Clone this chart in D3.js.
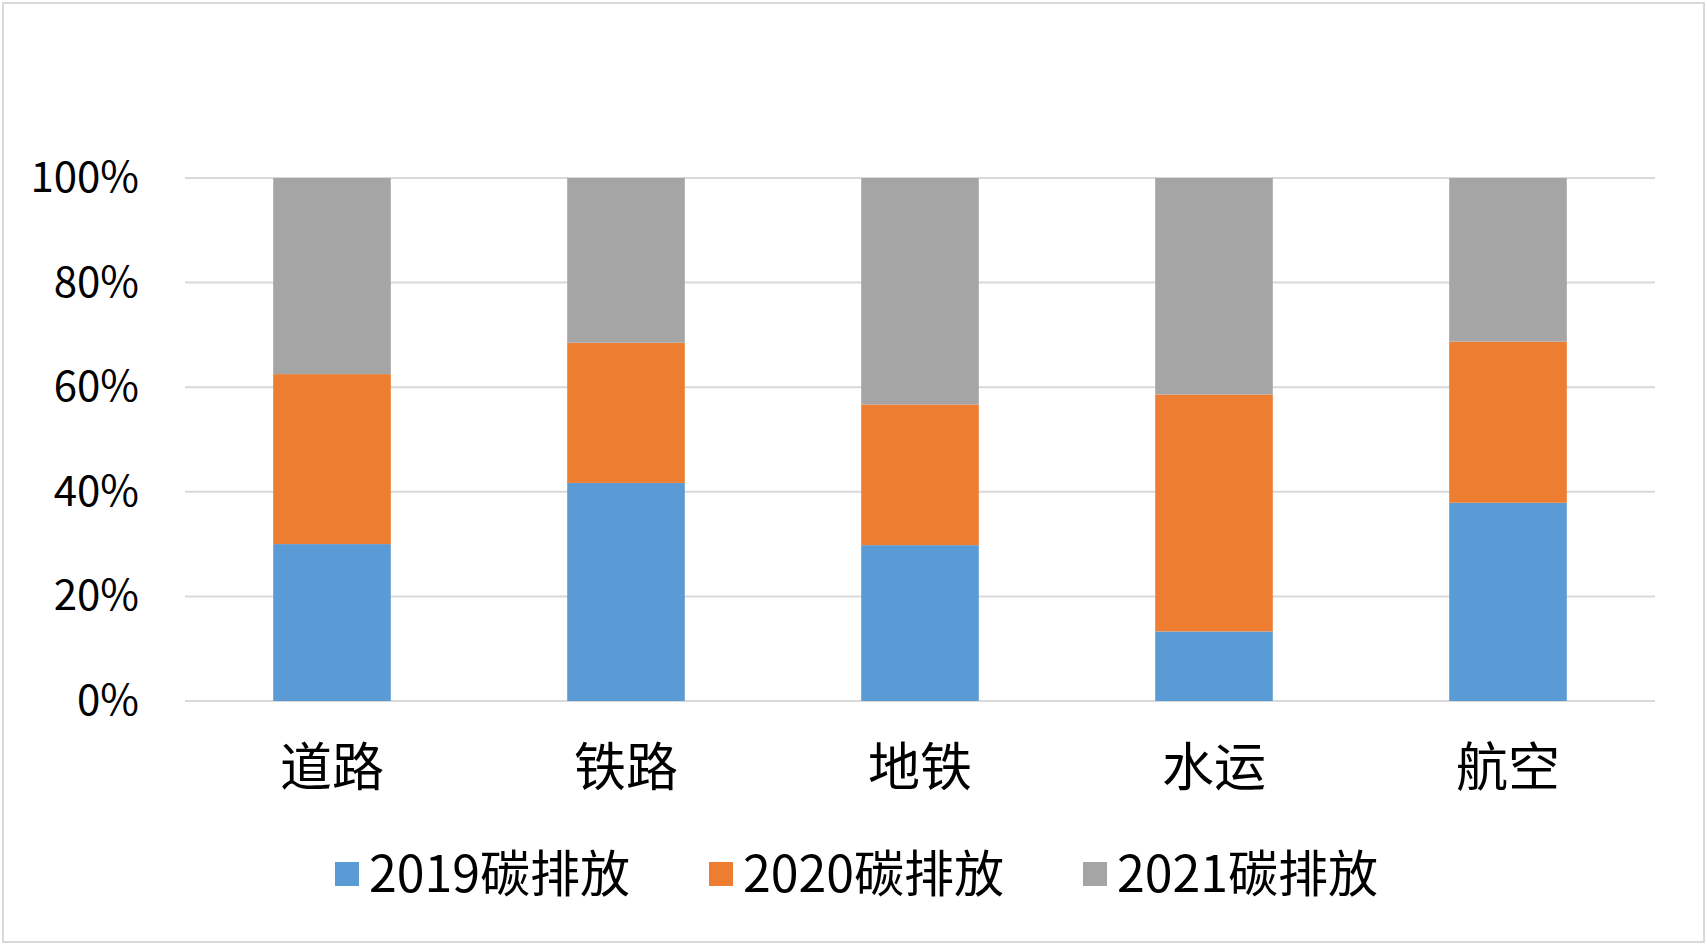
<!DOCTYPE html>
<html>
<head>
<meta charset="utf-8">
<script src="https://cdn.jsdelivr.net/npm/d3@7"></script>
<style>
	body { margin: 0; background: #ffffff; }
	svg text { font-family: "Noto Sans CJK SC", "Noto Sans", sans-serif; fill: #000000; }
</style>
</head>
<body>
<div id="chart"></div>
<script>
// Data
var categories = ["道路", "铁路", "地铁", "水运", "航空"];
var seriesNames = ["2019碳排放", "2020碳排放", "2021碳排放"];
var values2019 = [30.0, 41.7, 29.8, 13.3, 37.9];
var values2020 = [32.5, 26.8, 26.9, 45.3, 30.8];
var values2021 = [37.5, 31.5, 43.3, 41.4, 31.3];
var yTicks = [0, 0.2, 0.4, 0.6, 0.8, 1];
var colors = ["#5B9BD5", "#ED7D31", "#A5A5A5"];

(function(){

	var width = 1707, height = 945;
	var margin = {left: 185, right: 52, top: 178, bottom: 244};

	var svg = d3.select("#chart").append("svg")
		.attr("width", width)
		.attr("height", height);

	// chart border
	svg.append("rect")
		.attr("x", 3).attr("y", 3)
		.attr("width", width - 6).attr("height", height - 6)
		.attr("fill", "#ffffff")
		.attr("stroke", "#d9d9d9")
		.attr("stroke-width", 2);

	// build rows as shares of each total
	var rows = categories.map(function(c, i){
		var total = values2019[i] + values2020[i] + values2021[i];
		var row = {cat: c};
		row[seriesNames[0]] = values2019[i] / total;
		row[seriesNames[1]] = values2020[i] / total;
		row[seriesNames[2]] = values2021[i] / total;
		return row;
	});

	var stacked = d3.stack().keys(seriesNames)(rows);

	var x = d3.scaleBand()
		.domain(categories)
		.range([margin.left, width - margin.right])
		.paddingInner(0.6)
		.paddingOuter(0.3);

	var y = d3.scaleLinear()
		.domain([0, 1])
		.range([height - margin.bottom, margin.top]);

	// gridlines
	svg.append("g").selectAll("line")
		.data(yTicks)
		.enter().append("line")
		.attr("x1", margin.left)
		.attr("x2", width - margin.right)
		.attr("y1", function(d){ return y(d); })
		.attr("y2", function(d){ return y(d); })
		.attr("stroke", "#d9d9d9")
		.attr("stroke-width", 2);

	// bars
	svg.append("g").selectAll("g")
		.data(stacked)
		.enter().append("g")
		.attr("fill", function(d, i){ return colors[i]; })
		.selectAll("rect")
		.data(function(d){ return d; })
		.enter().append("rect")
		.attr("x", function(d){ return x(d.data.cat); })
		.attr("width", x.bandwidth())
		.attr("y", function(d){ return y(d[1]); })
		.attr("height", function(d){ return y(d[0]) - y(d[1]); });

	// y axis labels
	var yAxis = d3.axisLeft(y)
		.tickValues(yTicks)
		.tickFormat(d3.format(".0%"))
		.tickSize(0)
		.tickPadding(46);
	var yg = svg.append("g")
		.attr("transform", "translate(" + margin.left + ",0)")
		.call(yAxis);
	yg.select(".domain").remove();
	yg.selectAll("text")
		.style("font-size", "42px")
		.attr("fill", "#000000");

	// x axis labels
	var xAxis = d3.axisBottom(x).tickSize(0).tickPadding(48);
	var xg = svg.append("g")
		.attr("transform", "translate(0," + (height - margin.bottom) + ")")
		.call(xAxis);
	xg.select(".domain").remove();
	xg.selectAll("text")
		.style("font-size", "52px")
		.attr("fill", "#000000");

	// legend
	var legend = svg.append("g").attr("transform", "translate(335,862)");
	var item = legend.selectAll("g")
		.data(seriesNames)
		.enter().append("g")
		.attr("transform", function(d, i){ return "translate(" + (i * 374) + ",0)"; });
	item.append("rect")
		.attr("width", 24).attr("height", 24)
		.attr("fill", function(d, i){ return colors[i]; });
	item.append("text")
		.attr("x", 34).attr("y", 12)
		.attr("dy", "0.35em")
		.style("font-size", "50px")
		.text(function(d){ return d; });

})();
</script>
</body>
</html>
